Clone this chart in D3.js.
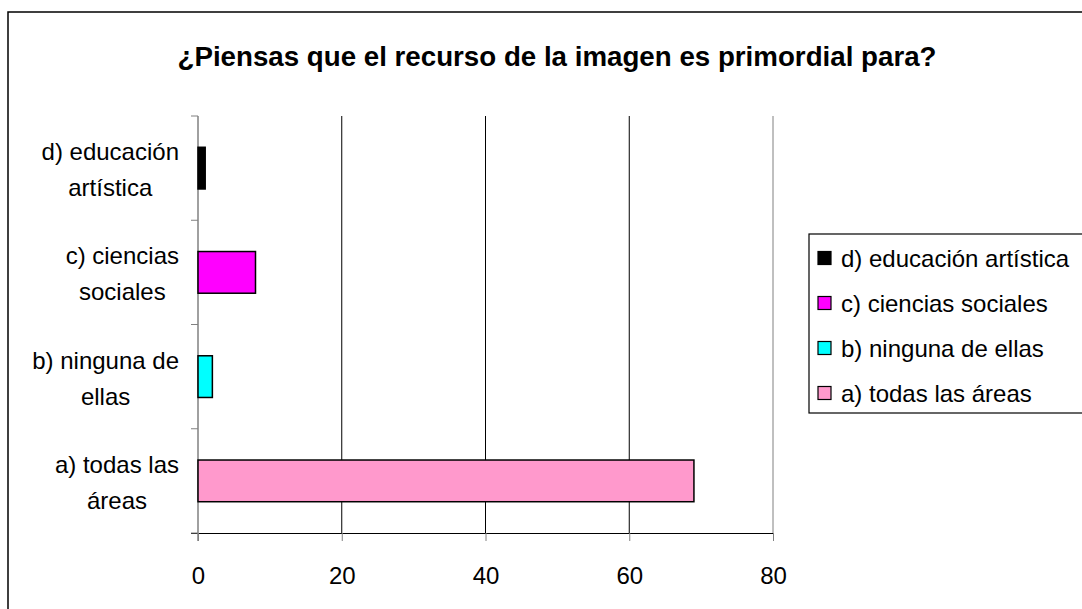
<!DOCTYPE html>
<html>
<head>
<meta charset="utf-8">
<script src="https://cdn.jsdelivr.net/npm/d3@7"></script>
<style>
  body { margin: 0; background: #fff; }
  text { font-family: "Liberation Sans", Arial, sans-serif; fill: #000; }
</style>
</head>
<body>
<svg id="chart" width="1082" height="609"></svg>
<script>
const categories = ['d) educación artística', 'c) ciencias sociales', 'b) ninguna de ellas', 'a) todas las áreas'];
const values = [1, 8, 2, 69];
const colors = ['#000000', '#ff00ff', '#00ffff', '#ff99cc'];
const xTicks = [0, 20, 40, 60, 80];
const title = '¿Piensas que el recurso de la imagen es primordial para?';

const svg = d3.select('#chart');
const margin = {top: 116, left: 198, right: 773, bottom: 533};

// outer frame (runs off the right and bottom edges)
svg.append('rect')
  .attr('x', 8).attr('y', 12).attr('width', 1200).attr('height', 800)
  .attr('fill', 'none').attr('stroke', '#000').attr('stroke-width', 1.5);

// title
svg.append('text')
  .attr('x', 557).attr('y', 66)
  .attr('text-anchor', 'middle')
  .attr('font-size', 27.5).attr('font-weight', 'bold')
  .attr('textLength', 759).attr('lengthAdjust', 'spacingAndGlyphs')
  .text(title);

// scales
const x = d3.scaleLinear().domain([0, 80]).range([margin.left, margin.right]);
const y = d3.scaleBand().domain(categories).range([margin.top, margin.bottom])
  .paddingInner(0.6).paddingOuter(0.3);

// grid lines
svg.append('g')
  .selectAll('line')
  .data(xTicks.slice(1))
  .join('line')
  .attr('x1', d => x(d)).attr('x2', d => x(d))
  .attr('y1', margin.top).attr('y2', margin.bottom)
  .attr('stroke', (d, i) => i === xTicks.length - 2 ? '#808080' : '#000')
  .attr('stroke-width', 1);

// x axis
const xAxis = svg.append('g')
  .attr('transform', `translate(0,${margin.bottom})`)
  .call(d3.axisBottom(x).tickValues(xTicks).tickSize(8).tickPadding(10).tickSizeOuter(0));
xAxis.select('.domain').attr('stroke', '#000').attr('d', `M${margin.left - 7},0.5H${margin.right}`);
xAxis.selectAll('.tick line').attr('stroke', '#808080');
xAxis.selectAll('.tick text')
  .attr('font-size', 24).attr('font-family', '"Liberation Sans", Arial, sans-serif')
  .attr('dy', '1.375em').attr('fill', '#000');

// y axis: ticks at band boundaries
const step = y.step();
const bounds = d3.range(categories.length + 1).map(i => margin.top + i * step);
svg.append('g')
  .selectAll('line')
  .data(bounds)
  .join('line')
  .attr('x1', margin.left - 7).attr('x2', margin.left)
  .attr('y1', d => d).attr('y2', d => d)
  .attr('stroke', '#808080');
svg.append('line')
  .attr('x1', margin.left).attr('x2', margin.left)
  .attr('y1', margin.top).attr('y2', margin.bottom + 8)
  .attr('stroke', '#808080').attr('stroke-width', 1.5);

// bars
svg.append('g')
  .selectAll('rect')
  .data(values)
  .join('rect')
  .attr('x', x(0))
  .attr('y', (d, i) => y(categories[i]))
  .attr('width', d => x(d) - x(0))
  .attr('height', y.bandwidth())
  .attr('fill', (d, i) => colors[i])
  .attr('stroke', '#000').attr('stroke-width', 1.5);

// category labels, wrapped and centred, block right-aligned
function wrap(str, maxW, size) {
  const words = str.split(' ');
  const probe = svg.append('text').attr('font-size', size);
  const lines = [];
  let cur = '';
  words.forEach(w => {
    const next = cur ? cur + ' ' + w : w;
    probe.text(next);
    if (cur && probe.node().getComputedTextLength() > maxW) {
      lines.push(cur);
      cur = w;
    } else {
      cur = next;
    }
  });
  lines.push(cur);
  const widths = lines.map(l => { probe.text(l); return probe.node().getComputedTextLength(); });
  probe.remove();
  return {lines, width: d3.max(widths)};
}

categories.forEach(c => {
  const w = wrap(c, 152, 24);
  const cy = y(c) + y.bandwidth() / 2;
  const cx = 179 - w.width / 2;
  const txt = svg.append('text')
    .attr('text-anchor', 'middle').attr('font-size', 24);
  w.lines.forEach((l, i) => {
    txt.append('tspan').attr('x', cx).attr('y', cy - 8 + i * 36).text(l);
  });
});

// legend
const legend = svg.append('g');
legend.append('rect')
  .attr('x', 809).attr('y', 234).attr('width', 400).attr('height', 179)
  .attr('fill', '#fff').attr('stroke', '#000').attr('stroke-width', 1.2);
const items = legend.selectAll('g.item')
  .data(categories)
  .join('g').attr('class', 'item')
  .attr('transform', (d, i) => `translate(0,${258 + i * 45})`);
items.append('rect')
  .attr('x', 818).attr('y', -6.5).attr('width', 13).attr('height', 13)
  .attr('fill', (d, i) => colors[i]).attr('stroke', '#000').attr('stroke-width', 1.2);
items.append('text')
  .attr('x', 841).attr('y', 8.5)
  .attr('font-size', 24)
  .text(d => d);
</script>
</body>
</html>
